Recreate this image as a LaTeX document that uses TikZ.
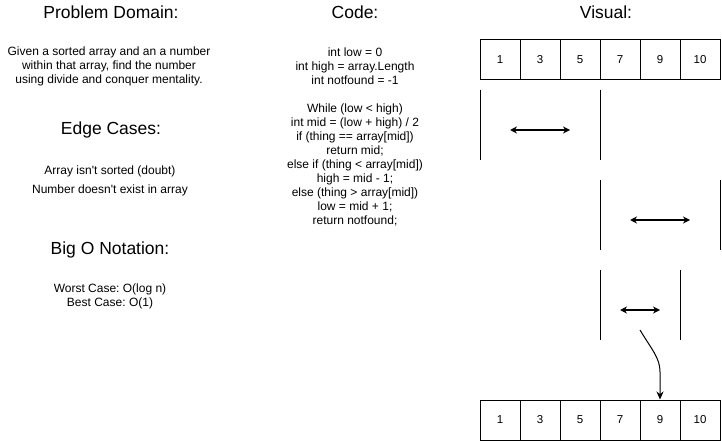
\documentclass[tikz,border=0pt]{standalone}
\usepackage{fontspec}
\setmainfont{Liberation Sans}
\frenchspacing
\usetikzlibrary{arrows.meta,positioning}

\begin{document}
\begin{tikzpicture}[x=1pt,y=-1pt,
    cell/.style={draw,line width=1pt,minimum width=40pt,minimum height=40pt,
        inner sep=0pt,font=\fontsize{11.5}{13}\selectfont},
    title/.style={font=\fontsize{17.5}{20}\selectfont},
    body/.style={align=center,inner sep=0pt,font=\fontsize{12}{14}\selectfont},
    span/.style={line width=1.2pt,{Stealth[length=7pt,width=7pt]}-{Stealth[length=7pt,width=7pt]}}]
    \useasboundingbox (0,0) rectangle (722,441);
    % Headings
    \node[title] (domain) at (111,12) {Problem Domain:};
    \node[title] (code) at (355,12) {Code:};
    \node[title] (visual) at (606,12) {Visual:};
    % Left column
    \node[body] (givenText) at (109,66)
        {Given a sorted array and an a number\\within that array, find the number\\using divide and conquer mentality.};
    \node[title] (edge) at (111,130) {Edge Cases:};
    \node[body] (edgeOne) at (110,171) {Array isn\textquotesingle t sorted (doubt)};
    \node[body] (edgeTwo) at (110,190) {Number doesn\textquotesingle t exist in array};
    \node[title] (bigO) at (110,250) {Big O Notation:};
    \node[body] (bigOText) at (110,296) {Worst Case: O(log n)\\Best Case: O(1)};
    % Pseudo code
    \node[body] (codeText) at (355,137)
        {int low = 0\\int high = array.Length\\int notfound = -1\\[14pt]
         While (low < high)\\int mid = (low + high) / 2\\if (thing == array[mid])\\return mid;\\
         else if (thing < array[mid])\\high = mid - 1;\\else (thing > array[mid])\\
         low = mid + 1;\\return notfound;};
    % Arrays
    \foreach \v [count=\i] in {1,3,5,7,9,10} {
        \node[cell] (top\i) at ({460+40*\i},60) {\v};
        \node[cell] (bot\i) at ({460+40*\i},420) {\v};
    }
    % First split
    \draw[line width=1pt] (480,90) -- (480,160);
    \draw[line width=1pt] (600,90) -- (600,160);
    \coordinate (spanAl) at (510,130);
    \coordinate (spanAr) at (570,130);
    \draw[span] (spanAl) -- (spanAr);
    % Second split
    \draw[line width=1pt] (600,180) -- (600,250);
    \draw[line width=1pt] (720,180) -- (720,250);
    \coordinate (spanBl) at (630,220);
    \coordinate (spanBr) at (690,220);
    \draw[span] (spanBl) -- (spanBr);
    % Third split
    \draw[line width=1pt] (600,270) -- (600,340);
    \draw[line width=1pt] (680,270) -- (680,340);
    \coordinate (spanCl) at (620,310);
    \coordinate (spanCr) at (660,310);
    \draw[span] (spanCl) -- (spanCr);
    % Found
    \coordinate (found) at (640,330);
    \draw[line width=1pt,-{Stealth[length=8pt,width=7pt]}] (found)
        .. controls (652,350) and (660,358) .. (660,372) -- (bot5.north);
\end{tikzpicture}
\end{document}
